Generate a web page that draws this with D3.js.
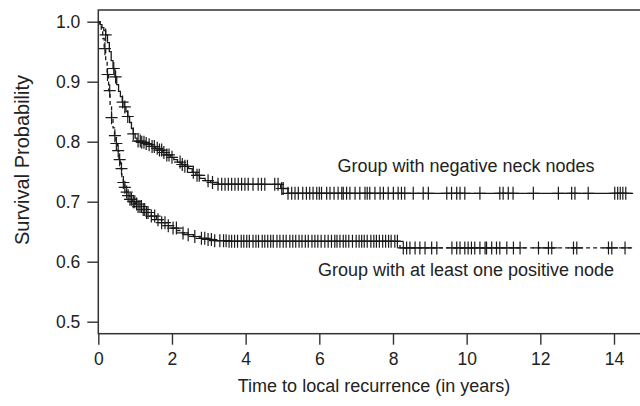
<!DOCTYPE html>
<html>
<head>
<meta charset="utf-8">
<script src="https://cdn.jsdelivr.net/npm/d3@7"></script>
<style>
body { margin: 0; background: #fff; }
text { font-family: "Liberation Sans", Arial, sans-serif; fill: #222; }
</style>
</head>
<body>
<svg></svg>
<script>
// Kaplan-Meier curves (time in years, survival)
var negTime = [0, 0.05, 0.10, 0.15, 0.20, 0.25, 0.30, 0.35, 0.40, 0.45, 0.50, 0.55, 0.60, 0.65, 0.70, 0.75, 0.80, 0.85, 0.90, 0.95, 1.00, 1.05,
	1.15, 1.25, 1.35, 1.45, 1.55, 1.65, 1.75, 1.85, 1.95, 2.05, 2.15, 2.25, 2.35, 2.45, 2.55, 2.65, 2.75, 2.90, 3.05, 3.25, 4.95, 5.15];
var negSurv = [1.000, 0.995, 0.990, 0.985, 0.978, 0.965, 0.950, 0.935, 0.922, 0.908, 0.895, 0.884, 0.875, 0.866, 0.858, 0.850, 0.842, 0.832, 0.822, 0.813, 0.806, 0.801,
	0.799, 0.797, 0.795, 0.792, 0.789, 0.786, 0.782, 0.778, 0.774, 0.770, 0.766, 0.762, 0.759, 0.755, 0.749, 0.744, 0.739, 0.735, 0.732, 0.729, 0.722, 0.714];

var posTime = [0, 0.04, 0.08, 0.12, 0.16, 0.20, 0.24, 0.28, 0.32, 0.36, 0.40, 0.44, 0.48, 0.52, 0.56, 0.60, 0.64, 0.68, 0.72, 0.76, 0.80, 0.86, 0.92,
	1.00, 1.08, 1.18, 1.30, 1.44, 1.58, 1.72, 1.86, 2.00, 2.14, 2.28, 2.42, 2.58, 2.76, 2.95, 3.15, 3.50, 8.19];
var posSurv = [1.000, 0.995, 0.985, 0.972, 0.955, 0.935, 0.912, 0.885, 0.858, 0.840, 0.823, 0.810, 0.797, 0.785, 0.770, 0.755, 0.742, 0.732, 0.724, 0.716, 0.710, 0.704, 0.700,
	0.696, 0.692, 0.687, 0.682, 0.676, 0.670, 0.665, 0.660, 0.656, 0.652, 0.648, 0.645, 0.642, 0.639, 0.637, 0.635, 0.634, 0.623];

var lastTime = 14.52;

// censored observations (+ marks)
var negCensor = [0.20, 0.42, 0.47, 0.66, 0.72, 0.80, 0.95, 1.08, 1.14, 1.18, 1.24, 1.30, 1.38, 1.46, 1.52, 1.60, 1.66, 1.72, 1.78, 1.86, 1.92, 2.00,
	2.22, 2.28, 2.35, 2.42, 2.58, 2.68, 2.74, 2.98, 3.10, 3.25, 3.35, 3.44, 3.53, 3.62, 3.71, 3.80, 3.89, 3.98, 4.07, 4.20, 4.34, 4.43, 4.52,
	4.79, 4.88, 4.98, 5.02, 5.15, 5.25, 5.34, 5.43, 5.55, 5.65, 5.74, 5.83, 5.93, 6.00, 6.06, 6.20, 6.29, 6.40, 6.51, 6.61, 6.65, 6.74, 6.83,
	6.97, 7.10, 7.24, 7.30, 7.37, 7.51, 7.65, 7.74, 7.87, 8.01, 8.14, 8.23, 8.32, 8.55, 8.82, 8.96, 9.46, 9.59, 9.73, 9.82, 9.95, 10.36,
	10.90, 10.99, 11.13, 11.26, 11.81, 12.49, 12.85, 12.94, 13.30, 14.02, 14.10, 14.17, 14.24, 14.32];
var posCensor = [0.18, 0.25, 0.31, 0.36, 0.45, 0.49, 0.54, 0.58, 0.63, 0.68, 0.72, 0.77, 0.81, 0.86, 0.90, 0.95, 0.99, 1.04, 1.08, 1.13, 1.17,
	1.22, 1.26, 1.31, 1.35, 1.44, 1.53, 1.62, 1.72, 1.81, 1.90, 2.03, 2.12, 2.30, 2.44, 2.62, 2.80, 2.89, 2.98, 3.07, 3.16, 3.30, 3.40, 3.47,
	3.55, 3.62, 3.70, 3.78, 3.88, 3.95, 4.03, 4.10, 4.20, 4.28, 4.35, 4.45, 4.52, 4.60, 4.68, 4.75, 4.85, 4.93, 5.02, 5.10, 5.20, 5.28, 5.36,
	5.45, 5.53, 5.62, 5.70, 5.80, 5.88, 5.96, 6.05, 6.15, 6.24, 6.33, 6.42, 6.48, 6.56, 6.65, 6.72, 6.80, 6.90, 7.00, 7.08, 7.15, 7.22, 7.30,
	7.40, 7.48, 7.55, 7.63, 7.72, 7.80, 7.88, 7.95, 8.05, 8.12, 8.28, 8.37, 8.46, 8.60, 8.73, 8.87, 9.05, 9.19, 9.60, 9.73, 9.82, 9.95,
	10.04, 10.13, 10.22, 10.36, 10.50, 10.54, 10.68, 10.81, 10.90, 11.09, 11.27, 11.45, 11.95, 12.22, 12.31, 12.90, 12.99, 13.85, 13.94, 14.30];

var xTicks = [0, 2, 4, 6, 8, 10, 12, 14];
var yTicks = [0.5, 0.6, 0.7, 0.8, 0.9, 1.0];

var labelNeg = "Group with negative neck nodes";
var labelPos = "Group with at least one positive node";

// Prepare SVG
var svg = d3.select("svg")
	.attr("width", 640)
	.attr("height", 406);

var x = d3.scaleLinear().domain([0, 14]).range([98.3, 614]);
var y = d3.scaleLinear().domain([0.5, 1.0]).range([321.7, 21.7]);

var boxTop = 10, boxBottom = 333.7;

// axes
svg.append("g")
	.attr("transform", "translate(98.3,0)")
	.call(d3.axisLeft(y).tickValues(yTicks).tickFormat(d3.format(".1f")).tickSize(11).tickPadding(7))
	.call(function(g) { g.select(".domain").remove(); })
	.call(function(g) {
		g.selectAll("line").attr("stroke", "#333").attr("stroke-width", 1.4);
		g.selectAll("text").attr("font-size", "17.5px").attr("fill", "#222")
			.attr("font-family", "'Liberation Sans', Arial, sans-serif");
	});

svg.append("g")
	.attr("transform", "translate(0," + boxBottom + ")")
	.call(d3.axisBottom(x).tickValues(xTicks).tickFormat(d3.format("d")).tickSize(11).tickPadding(8))
	.call(function(g) { g.select(".domain").remove(); })
	.call(function(g) {
		g.selectAll("line").attr("stroke", "#333").attr("stroke-width", 1.4);
		g.selectAll("text").attr("font-size", "17.5px").attr("fill", "#222")
			.attr("font-family", "'Liberation Sans', Arial, sans-serif");
	});

// box
svg.append("rect")
	.attr("x", 98.3)
	.attr("y", boxTop)
	.attr("width", 545)
	.attr("height", boxBottom - boxTop)
	.attr("fill", "none")
	.attr("stroke", "#333")
	.attr("stroke-width", 1.5);

// curves
function stepData(times, surv) {
	var pts = times.map(function(t, i) { return [t, surv[i]]; });
	pts.push([lastTime, surv[surv.length - 1]]);
	return pts;
}

var line = d3.line()
	.x(function(d) { return x(d[0]); })
	.y(function(d) { return y(d[1]); })
	.curve(d3.curveStepAfter);

svg.append("path")
	.attr("d", line(stepData(negTime, negSurv)))
	.attr("fill", "none")
	.attr("stroke", "#1a1a1a")
	.attr("stroke-width", 1.3);

svg.append("path")
	.attr("d", line(stepData(posTime, posSurv)))
	.attr("fill", "none")
	.attr("stroke", "#1a1a1a")
	.attr("stroke-width", 1.3)
	.attr("stroke-dasharray", "4,3");

// censor marks
function survAt(times, surv, t) {
	var i = d3.bisectRight(times, t) - 1;
	return surv[Math.max(i, 0)];
}

function drawMarks(censor, times, surv) {
	svg.append("g").selectAll("path")
			.data(censor)
		.enter().append("path")
			.attr("d", function(t) {
				var cx = x(t), cy = y(survAt(times, surv, t));
				return "M" + (cx - 6) + "," + cy + "H" + (cx + 6) + "M" + cx + "," + (cy - 6.5) + "V" + (cy + 6.5);
			})
			.attr("fill", "none")
			.attr("stroke", "#1a1a1a")
			.attr("stroke-width", 1.2);
}

drawMarks(negCensor, negTime, negSurv);
drawMarks(posCensor, posTime, posSurv);

// group labels
svg.append("text")
	.attr("x", 466)
	.attr("y", 172)
	.attr("text-anchor", "middle")
	.attr("font-size", "18px")
	.text(labelNeg);

svg.append("text")
	.attr("x", 466)
	.attr("y", 276)
	.attr("text-anchor", "middle")
	.attr("font-size", "18px")
	.text(labelPos);

// axis titles
svg.append("text")
	.attr("x", 374)
	.attr("y", 392)
	.attr("text-anchor", "middle")
	.attr("font-size", "18px")
	.text("Time to local recurrence (in years)");

svg.append("text")
	.attr("transform", "translate(29,160) rotate(-90)")
	.attr("text-anchor", "middle")
	.attr("font-size", "20px")
	.text("Survival Probability");
</script>
</body>
</html>
